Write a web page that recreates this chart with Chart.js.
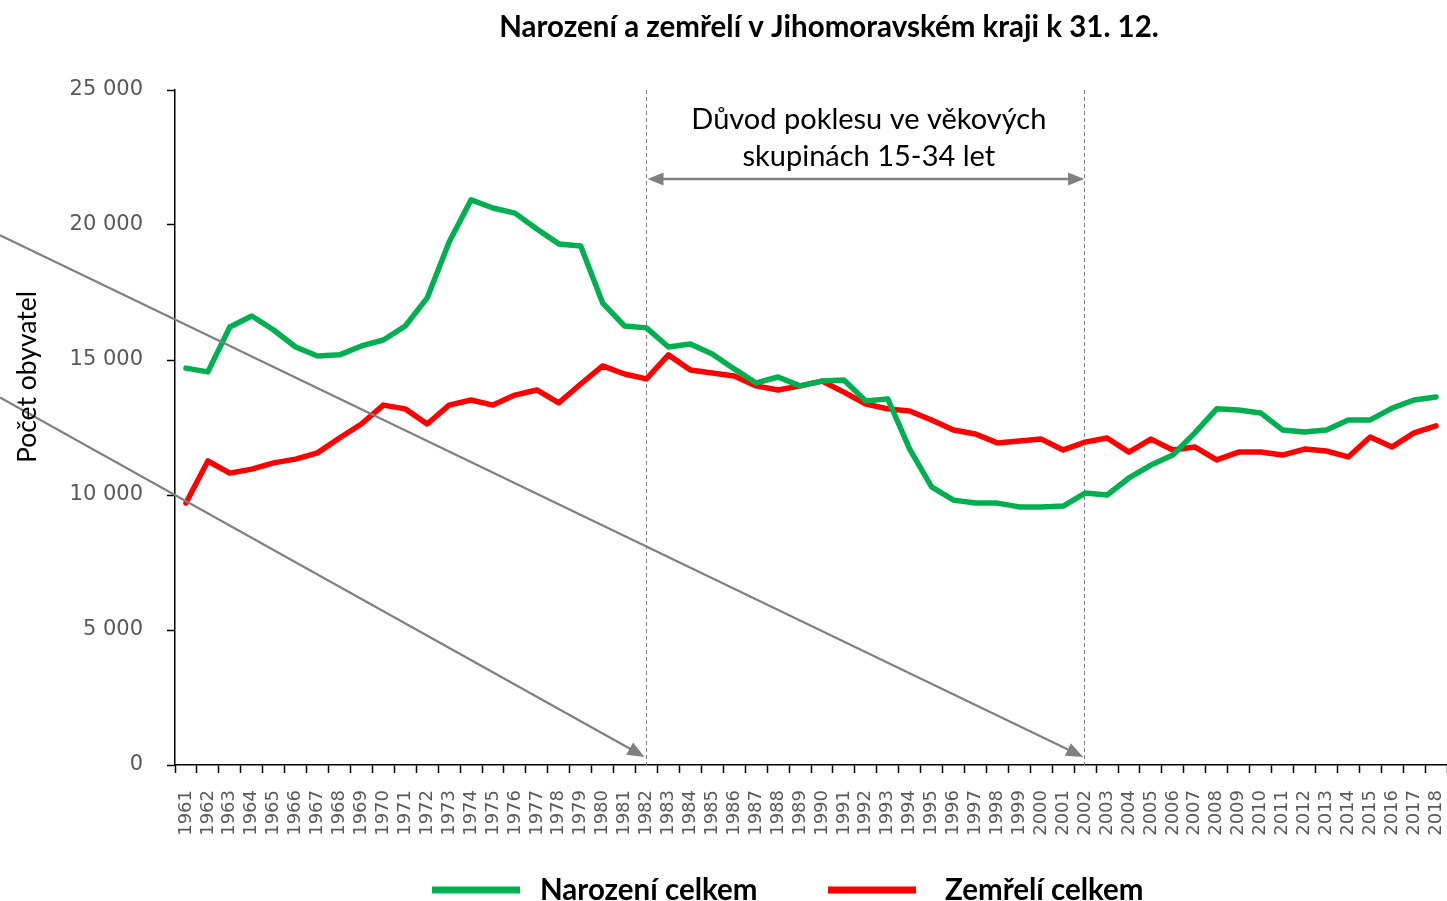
<!DOCTYPE html>
<html lang="cs">
<head>
<meta charset="utf-8">
<title>Narození a zemřelí v Jihomoravském kraji</title>
<script src="https://cdn.jsdelivr.net/npm/chart.js@4.4.1/dist/chart.umd.min.js"></script>
<style>
  html, body { margin: 0; padding: 0; background: #fff; overflow: hidden; }
  canvas { display: block; }
</style>
</head>
<body>
<canvas id="chart" width="1447" height="901"></canvas>
<script>
// roky (kategorie osy x)
const years = [
  "1961", "1962", "1963", "1964", "1965", "1966", "1967", "1968", "1969", "1970",
  "1971", "1972", "1973", "1974", "1975", "1976", "1977", "1978", "1979", "1980",
  "1981", "1982", "1983", "1984", "1985", "1986", "1987", "1988", "1989", "1990",
  "1991", "1992", "1993", "1994", "1995", "1996", "1997", "1998", "1999", "2000",
  "2001", "2002", "2003", "2004", "2005", "2006", "2007", "2008", "2009", "2010",
  "2011", "2012", "2013", "2014", "2015", "2016", "2017", "2018"
];

// Narození celkem
const narozeni = [
  14700, 14560, 16220, 16630, 16110, 15480, 15150, 15190, 15520, 15740,
  16260, 17300, 19370, 20930, 20630, 20440, 19850, 19300, 19220, 17110,
  16260, 16190, 15480, 15590, 15220, 14670, 14150, 14370, 14040, 14220,
  14260, 13480, 13560, 11700, 10300, 9810, 9700, 9700, 9560, 9560,
  9590, 10070, 10000, 10630, 11110, 11480, 12300, 13190, 13150, 13040,
  12410, 12330, 12410, 12780, 12780, 13220, 13520, 13630
];

// Zemřelí celkem
const zemreli = [
  9700, 11260, 10810, 10960, 11190, 11330, 11560, 12110, 12630, 13330,
  13190, 12630, 13330, 13520, 13330, 13700, 13890, 13410, 14110, 14780,
  14480, 14300, 15190, 14630, 14520, 14410, 14040, 13890, 14040, 14220,
  13810, 13370, 13190, 13110, 12780, 12410, 12260, 11930, 12000, 12070,
  11670, 11960, 12110, 11590, 12070, 11670, 11780, 11300, 11590, 11590,
  11480, 11700, 11630, 11410, 12150, 11780, 12300, 12560
];

const yTicks = [0, 5000, 10000, 15000, 20000, 25000];

// vyznačené období a popisek
const markedYears = ["1982", "2002"];
const noteLines = ["Důvod poklesu ve věkových", "skupinách 15-34 let"];
const noteArrowValue = 21700;
// šikmé šipky: [hodnota na ose y u osy, rok cíle]
const slantArrows = [
  [10000, "1982"],
  [16500, "2002"]
];
const slantTipValue = 300;

const GRAY = "#808080";

function fmt(v) {
  return String(v).replace(/\B(?=(\d{3})+(?!\d))/g, " ");
}

function arrowHead(ctx, x1, y1, x2, y2, len, half) {
  const a = Math.atan2(y2 - y1, x2 - x1);
  ctx.beginPath();
  ctx.moveTo(x2, y2);
  ctx.lineTo(x2 - len * Math.cos(a) + half * Math.sin(a), y2 - len * Math.sin(a) - half * Math.cos(a));
  ctx.lineTo(x2 - len * Math.cos(a) - half * Math.sin(a), y2 - len * Math.sin(a) + half * Math.cos(a));
  ctx.closePath();
  ctx.fill();
}

const decorations = {
  id: "decorations",
  beforeDatasetsDraw(chart) {
    const { ctx, scales: { x, y } } = chart;
    // svislé přerušované čáry
    ctx.save();
    ctx.strokeStyle = GRAY;
    ctx.lineWidth = 1;
    ctx.setLineDash([4, 3]);
    markedYears.forEach(yr => {
      const px = Math.round(x.getPixelForValue(years.indexOf(yr))) - 0.5;
      ctx.beginPath();
      ctx.moveTo(px, y.getPixelForValue(25000));
      ctx.lineTo(px, y.getPixelForValue(0));
      ctx.stroke();
    });
    ctx.restore();
  },
  afterDatasetsDraw(chart) {
    const { ctx, scales: { x, y } } = chart;
    ctx.save();
    ctx.strokeStyle = GRAY;
    ctx.fillStyle = GRAY;

    // oboustranná šipka mezi vyznačenými roky
    const xa = x.getPixelForValue(years.indexOf(markedYears[0]));
    const xb = x.getPixelForValue(years.indexOf(markedYears[1]));
    const ya = y.getPixelForValue(noteArrowValue);
    ctx.lineWidth = 2.5;
    ctx.beginPath();
    ctx.moveTo(xa + 12, ya);
    ctx.lineTo(xb - 12, ya);
    ctx.stroke();
    arrowHead(ctx, xb, ya, xa + 1, ya, 16, 6.5);
    arrowHead(ctx, xa, ya, xb - 1, ya, 16, 6.5);

    // šikmé šipky
    ctx.lineWidth = 2.2;
    slantArrows.forEach(([val, yr]) => {
      const x0 = x.getPixelForValue(-0.5);
      const y0 = y.getPixelForValue(val);
      const x1 = x.getPixelForValue(years.indexOf(yr)) - 2;
      const y1 = y.getPixelForValue(slantTipValue);
      const k = (y1 - y0) / (x1 - x0);
      const xs = 0, ys = y0 - k * x0;
      const ang = Math.atan2(y1 - ys, x1 - xs);
      ctx.beginPath();
      ctx.moveTo(xs, ys);
      ctx.lineTo(x1 - 14 * Math.cos(ang), y1 - 14 * Math.sin(ang));
      ctx.stroke();
      arrowHead(ctx, xs, ys, x1, y1, 17, 7);
    });

    // popisek
    ctx.fillStyle = "#000";
    ctx.font = "29px Lato";
    ctx.textAlign = "center";
    ctx.textBaseline = "middle";
    const cx = (xa + xb) / 2 + 3;
    noteLines.forEach((t, i) => ctx.fillText(t, cx, 120 + i * 37));
    ctx.restore();
  },
  afterDraw(chart) {
    const { ctx } = chart;
    ctx.save();
    // nadpis
    ctx.fillStyle = "#000";
    ctx.font = "bold 29.5px Lato";
    ctx.textAlign = "center";
    ctx.textBaseline = "middle";
    ctx.fillText("Narození a zemřelí v Jihomoravském kraji k 31. 12.", 829, 27);

    // popisek osy y
    ctx.translate(27, 377);
    ctx.rotate(-Math.PI / 2);
    ctx.font = "26.5px Lato";
    ctx.fillText("Počet obyvatel", 0, 0);
    ctx.restore();

    // legenda
    ctx.save();
    ctx.font = "bold 29.5px Lato";
    ctx.textBaseline = "middle";
    ctx.textAlign = "left";
    const legendX = [432, 828];
    const textGap = [108, 117];
    const ly = 890;
    chart.data.datasets.forEach((ds, i) => {
      ctx.fillStyle = ds.borderColor;
      ctx.fillRect(legendX[i], ly - 3.5, 88, 7);
      ctx.fillStyle = "#000";
      ctx.fillText(ds.label, legendX[i] + textGap[i], ly);
    });
    ctx.restore();
  }
};

const chart = new Chart(document.getElementById("chart"), {
  type: "line",
  data: {
    labels: years,
    datasets: [
      {
        label: "Narození celkem",
        data: narozeni,
        borderColor: "#00B050",
        backgroundColor: "#00B050",
        borderWidth: 5.5,
        pointRadius: 0,
        tension: 0,
        borderJoinStyle: "round",
        borderCapStyle: "round"
      },
      {
        label: "Zemřelí celkem",
        data: zemreli,
        borderColor: "#FF0000",
        backgroundColor: "#FF0000",
        borderWidth: 5.5,
        pointRadius: 0,
        tension: 0,
        borderJoinStyle: "round",
        borderCapStyle: "round"
      }
    ]
  },
  options: {
    responsive: false,
    animation: false,
    events: [],
    layout: { padding: { top: 90, left: 0, right: 0, bottom: 0 } },
    plugins: {
      legend: { display: false },
      title: { display: false },
      tooltip: { enabled: false }
    },
    scales: {
      x: {
        offset: true,
        grid: {
          drawOnChartArea: false,
          drawTicks: true,
          tickLength: 8,
          tickColor: "#000",
          tickWidth: 1.5,
          offset: true
        },
        border: { color: "#000", width: 1.5 },
        ticks: {
          autoSkip: false,
          minRotation: 90,
          maxRotation: 90,
          padding: 17,
          color: "#595959",
          font: { family: "DejaVu Sans", size: 18 }
        },
        afterFit(s) {
          s.height = 901 - 765;
          s.paddingLeft = 0;
          s.paddingRight = 0;
        }
      },
      y: {
        min: 0,
        max: 25000,
        afterBuildTicks(s) { s.ticks = yTicks.map(v => ({ value: v })); },
        grid: {
          drawOnChartArea: false,
          drawTicks: true,
          tickLength: 8,
          tickColor: "#000",
          tickWidth: 1.5
        },
        border: { color: "#000", width: 1.5 },
        ticks: {
          padding: 24,
          color: "#595959",
          font: { family: "DejaVu Sans", size: 21 },
          callback: v => fmt(v)
        },
        afterFit(s) { s.width = 175; }
      }
    }
  },
  plugins: [decorations]
});
</script>
</body>
</html>
